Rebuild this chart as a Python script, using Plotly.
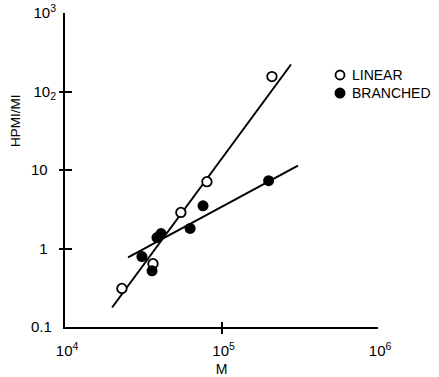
import numpy as np
import plotly.graph_objects as go

# ---- data ----
linear_M = [23100, 36500, 55000, 80700, 210000]
linear_R = [0.31, 0.64, 2.88, 7.1, 155]

branched_M = [31000, 36000, 38700, 41100, 63000, 76200, 200000]
branched_R = [0.79, 0.52, 1.38, 1.55, 1.8, 3.5, 7.3]

linear_fit_M = [20000, 278000]
linear_fit_R = [0.177, 221]
branched_fit_M = [25300, 308000]
branched_fit_R = [0.77, 11.4]

x_tickvals = [1e4, 1e5, 1e6]
x_ticktext = ["\u00a010<sup>4</sup>", "\u00a010<sup>5</sup>", "\u00a010<sup>6</sup>"]
y_tickvals = [0.1, 1, 10, 100, 1000]
y_ticktext = ["0.1\u00a0", "1\u00a0\u00a0", "10\u00a0\u00a0", "10<sub>2</sub>", "10<sup>3</sup>"]

legend_labels = ["LINEAR", "BRANCHED"]

FONT = "Liberation Sans, Arial, sans-serif"

fig = go.Figure()
fig.add_trace(go.Scatter(x=linear_fit_M, y=linear_fit_R, mode="lines",
                         line=dict(color="black", width=2), showlegend=False))
fig.add_trace(go.Scatter(x=branched_fit_M, y=branched_fit_R, mode="lines",
                         line=dict(color="black", width=2), showlegend=False))
fig.add_trace(go.Scatter(x=linear_M, y=linear_R, mode="markers", name=legend_labels[0],
                         marker=dict(symbol="circle", size=9.5, color="white",
                                     line=dict(color="black", width=1.8)),
                         showlegend=False))
fig.add_trace(go.Scatter(x=branched_M, y=branched_R, mode="markers", name=legend_labels[1],
                         marker=dict(symbol="circle", size=11, color="black",
                                     line=dict(color="black", width=0)),
                         showlegend=False))

axis_common = dict(
    type="log", showgrid=False, zeroline=False, showline=True, automargin=False,
    linecolor="black", linewidth=2, ticks="inside", tickwidth=2,
    tickcolor="black", tickfont=dict(family=FONT, size=15, color="black"),
)

fig.update_xaxes(**axis_common, range=[4, 6], tickmode="array",
                 tickvals=x_tickvals, ticktext=x_ticktext, ticklen=5,
                 minor=dict(ticks="outside", ticklen=5, tickwidth=2, tickcolor="black",
                            tickmode="array", tickvals=x_tickvals[1:]),
                 ticklabelstandoff=9,
                 title=dict(text="M", font=dict(family=FONT, size=14, color="black"),
                            standoff=9))
fig.update_yaxes(**axis_common, range=[-1, 3], tickmode="array",
                 tickvals=y_tickvals, ticktext=y_ticktext, ticklen=7,
                 minor=dict(ticks="outside", ticklen=4, tickwidth=2, tickcolor="black",
                            tickmode="array", tickvals=y_tickvals[1:-1]),
                 ticklabelstandoff=4)

# y-axis title placed high like the original
fig.add_annotation(text="HPMI/MI", xref="paper", yref="paper", x=-0.16, y=0.659,
                   xanchor="center", yanchor="middle",
                   textangle=-90, showarrow=False,
                   font=dict(family=FONT, size=13.5, color="black"))

# manual legend
leg_y = [0.8025, 0.745]
fig.add_shape(type="circle", xref="paper", yref="paper", xsizemode="pixel", ysizemode="pixel",
              xanchor=0.8786, yanchor=leg_y[0], x0=-4.5, x1=4.5, y0=-4.5, y1=4.5,
              line=dict(color="black", width=1.8), fillcolor="white")
fig.add_shape(type="circle", xref="paper", yref="paper", xsizemode="pixel", ysizemode="pixel",
              xanchor=0.8786, yanchor=leg_y[1], x0=-5.5, x1=5.5, y0=-5.5, y1=5.5,
              line=dict(color="black", width=0), fillcolor="black")
for lab, yy in zip(legend_labels, leg_y):
    fig.add_annotation(text=lab, xref="paper", yref="paper", x=0.912, y=yy,
                       xanchor="left", yanchor="middle", showarrow=False,
                       font=dict(family=FONT, size=14, color="black"))

fig.update_layout(
    width=439, height=377,
    margin=dict(l=65, r=61, t=13, b=50),
    paper_bgcolor="white", plot_bgcolor="white",
    showlegend=False,
)

fig.write_html("out.html", config={"displayModeBar": False},
               post_script="document.body.style.margin='0';document.body.style.overflow='hidden';")
